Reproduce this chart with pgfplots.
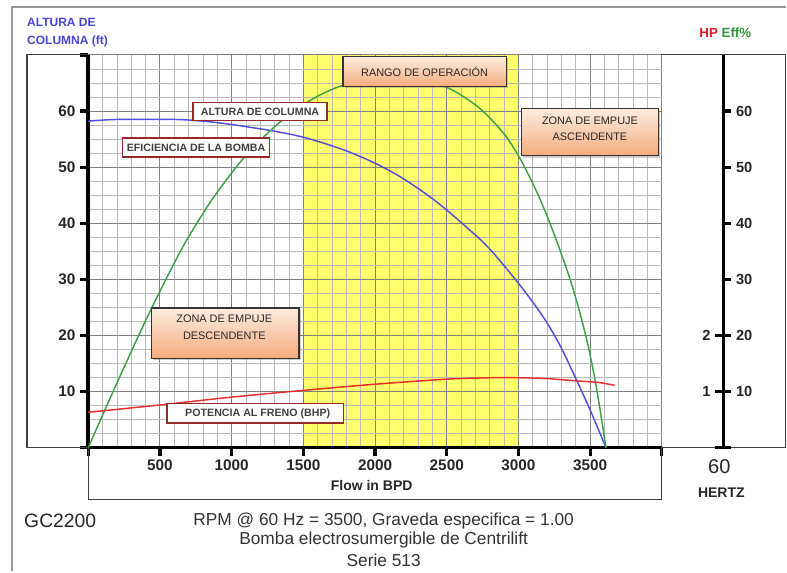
\documentclass[border=0pt]{standalone}
\usepackage{fontspec}
\setmainfont{Liberation Sans}
\usepackage{pgfplots}
\pgfplotsset{compat=1.18}
\usepackage{pgfplotstable}
\usetikzlibrary{shadows}
\definecolor{cblue}{RGB}{80,80,220}
\definecolor{cgreen}{RGB}{60,160,70}
\definecolor{cred}{RGB}{235,45,45}
\definecolor{cyellow}{RGB}{255,255,110}
\definecolor{boxred}{RGB}{150,40,40}
\definecolor{orlight}{RGB}{253,236,224}
\definecolor{ordark}{RGB}{244,172,124}
\definecolor{titleblue}{RGB}{70,70,210}
\definecolor{hpred}{RGB}{225,30,40}
\definecolor{effgreen}{RGB}{50,150,60}

\pgfplotstableread{
q h
0 58.2
200 58.5
600 58.5
800 58.2
1000 57.6
1300 56.4
1520 55.2
1780 53.1
2000 50.7
2200 47.9
2430 43.8
2660 38.8
2800 35.4
3000 29.3
3170 23.4
3290 18.2
3400 12.3
3500 6.7
3610 0
}\headtab

\pgfplotstableread{
q e
0 0
116 6.7
246 14.1
407 23.0
546 30.2
680 36.7
871 44.5
1103 52.2
1336 58.0
1568 62.2
1777 64.6
2000 65.7
2200 65.8
2400 65.0
2543 63.7
2729 60.5
2891 56.2
2996 52.2
3100 47.1
3193 41.7
3274 36.3
3356 30.3
3420 24.8
3480 18.8
3530 12.6
3570 6.6
3610 0
}\efftab

\pgfplotstableread{
q p
0 6.3
500 7.6
1000 9.0
1500 10.2
2000 11.3
2500 12.2
2800 12.45
3000 12.45
3200 12.3
3400 11.9
3560 11.6
3670 11.1
}\bhptab

\begin{document}
\begin{tikzpicture}
\begin{scope}[x=0.75pt,y=-0.75pt]
  \path (0,0) rectangle (787,572);
  \draw[black!40, line width=1.1pt] (12,572) -- (12,7) -- (787,7);
  \draw[black!75, line width=0.8pt] (88,55) -- (27,55) -- (27,448) -- (88,448);
  \draw[black!75, line width=0.8pt] (662,55) -- (786,55) -- (786,448) -- (662,448);
  \draw[black!75, line width=0.8pt] (88.3,448) -- (88.3,500) -- (662.5,500) -- (662.5,448);
\end{scope}

\begin{axis}[
  at={(66.225pt,-336pt)}, anchor=south west,
  scale only axis, width=430.65pt, height=294.75pt,
  xmin=0, xmax=4000, ymin=0, ymax=70,
  set layers,
  axis x line*=bottom, axis y line*=left, tick pos=left,
  axis line style={line width=2.6pt, -},
  every outer x axis line/.append style={-},
  every outer y axis line/.append style={-},
  xtick={0,500,...,4000},
  xticklabels={,500,1000,1500,2000,2500,3000,3500,},
  ytick={0,10,...,70},
  yticklabels={,10,20,30,40,50,60,},
  minor x tick num=4, minor y tick num=3,
  grid=both,
  major grid style={draw=black!50, line width=0.8pt},
  minor grid style={draw=black!27, line width=0.6pt},
  tick align=outside,
  major tick length=6pt, minor tick length=0pt,
  major tick style={line width=2.4pt, black},
  tick label style={font=\bfseries\fontsize{11.5}{13}\selectfont, text=black!85},
  clip=false,
]
\addplot[fill=cyellow, draw=none, on layer=axis background] coordinates {(1500,70) (3000,70)} \closedcycle;
\addplot[cblue, line width=1.1pt, smooth] table[x=q, y=h] {\headtab};
\addplot[cgreen, line width=1.1pt, smooth] table[x=q, y=e] {\efftab};
\addplot[cred, line width=1.1pt, smooth] table[x=q, y=p] {\bhptab};
\end{axis}

% right scale: Eff% ticks
\begin{axis}[
  at={(543pt,-336pt)}, anchor=south east,
  scale only axis, width=8pt, height=294.75pt,
  xmin=0, xmax=1, ymin=0, ymax=70,
  axis x line=none, axis y line*=right, ytick pos=right,
  axis line style={line width=2.6pt, -},
  every outer y axis line/.append style={-},
  ytick={0,10,...,60}, yticklabels={,10,20,30,40,50,60},
  tick align=outside, major tick length=6pt,
  major tick style={line width=2.4pt, black},
  tick label style={font=\bfseries\fontsize{11}{13}\selectfont, text=black!85},
]
\end{axis}
% right scale: HP ticks
\begin{axis}[
  at={(543pt,-336pt)}, anchor=south west,
  scale only axis, width=8pt, height=294.75pt,
  xmin=0, xmax=1, ymin=0, ymax=70,
  axis x line=none, axis y line*=left, ytick pos=left,
  axis line style={line width=2.6pt, -},
  every outer y axis line/.append style={-},
  ytick={0,10,20}, yticklabels={,1,2},
  tick align=outside, major tick length=6pt,
  major tick style={line width=2.4pt, black},
  tick label style={font=\bfseries\fontsize{11}{13}\selectfont, text=black!85},
]
\end{axis}

\begin{scope}[x=0.75pt,y=-0.75pt,
  wbox/.style={draw=boxred, line width=1.1pt, fill=white},
  obox/.style={draw=black!80, line width=0.9pt, top color=orlight, bottom color=ordark,
     drop shadow={shadow xshift=1.3pt, shadow yshift=-1.3pt, opacity=0.4}},
  lbl/.style={font=\bfseries\fontsize{8}{9.6}\selectfont, text=black!75, inner sep=0pt},
  olbl/.style={font=\fontsize{8.2}{12.5}\selectfont, text=black!85, align=center, inner sep=0pt}]
  % white labels
  \path[wbox] (193.3,102.7) rectangle (327.3,120.7);
  \node[lbl] at (260.3,111.7) {ALTURA DE COLUMNA};
  \path[wbox] (122.7,138.3) rectangle (270,157.3);
  \node[lbl] at (196.3,147.8) {EFICIENCIA DE LA BOMBA};
  \path[wbox] (167.3,404) rectangle (344,423.3);
  \node[lbl] at (258,413.7) {POTENCIA AL FRENO (BHP)};
  % orange boxes
  \path[obox] (343.3,56.7) rectangle (506.7,86.7);
  \node[olbl] at (425,72) {RANGO DE OPERACIÓN};
  \path[obox] (521.7,108.3) rectangle (659.3,156);
  \node[olbl] at (590.5,129) {ZONA DE EMPUJE\\ASCENDENTE};
  \path[obox] (151.7,308.3) rectangle (299.3,359);
  \node[olbl] at (224.5,327.5) {ZONA DE EMPUJE\\DESCENDENTE};
  % titles
  \node[anchor=west, inner sep=0pt, font=\bfseries\fontsize{9}{11}\selectfont, text=titleblue] at (27,22.7) {ALTURA DE};
  \node[anchor=west, inner sep=0pt, font=\bfseries\fontsize{9}{11}\selectfont, text=titleblue] at (27,41.7) {COLUMNA (ft)};
  \node[inner sep=0pt, font=\bfseries\fontsize{10}{12}\selectfont] at (726,33) {\textcolor{hpred}{HP} \textcolor{effgreen}{Eff\%}};
  \node[inner sep=0pt, font=\bfseries\fontsize{10.5}{12}\selectfont, text=black!85] at (372,486) {Flow in BPD};
  \node[inner sep=0pt, font=\fontsize{15}{18}\selectfont, text=black!85] at (720,467) {60};
  \node[inner sep=0pt, font=\bfseries\fontsize{10.5}{12}\selectfont, text=black!85] at (722,493) {HERTZ};
  \node[anchor=west, inner sep=0pt, font=\fontsize{14.5}{17}\selectfont, text=black!85] at (24,521) {GC2200};
  \node[inner sep=0pt, font=\fontsize{13}{15}\selectfont, text=black!80] at (384,521) {RPM @ 60 Hz = 3500, Graveda especifica = 1.00};
  \node[inner sep=0pt, font=\fontsize{13}{15}\selectfont, text=black!80] at (384,541) {Bomba electrosumergible de Centrilift};
  \node[inner sep=0pt, font=\fontsize{13}{15}\selectfont, text=black!80] at (384,561) {Serie 513};
\end{scope}
\end{tikzpicture}
\end{document}
